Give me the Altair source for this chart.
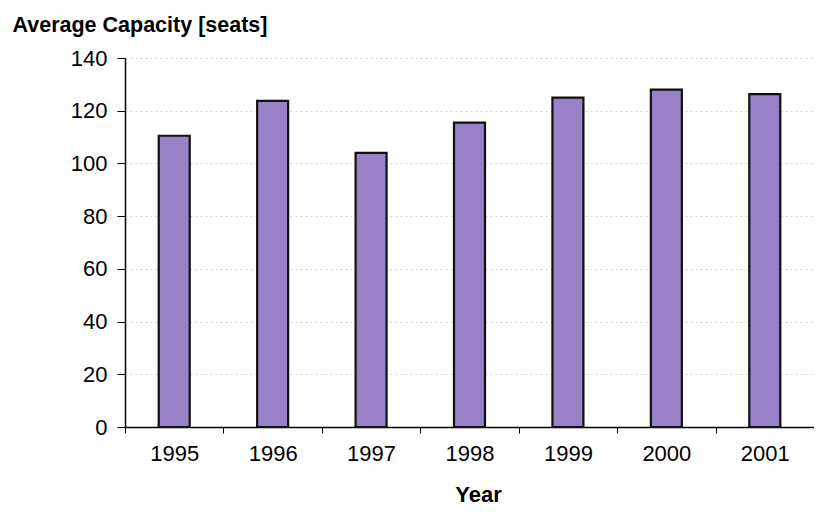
import altair as alt
import pandas as pd

years = ["1995", "1996", "1997", "1998", "1999", "2000", "2001"]
capacity = [110.5, 123.7, 104.0, 115.5, 125.0, 128.0, 126.3]
y_ticks = [0, 20, 40, 60, 80, 100, 120, 140]

df = pd.DataFrame({"Year": years, "Capacity": capacity})

FONT = "Liberation Sans"

chart = alt.Chart(df).mark_bar(
    size=31, color="#9781c7", stroke="#111111", strokeWidth=2.2
).encode(
    x=alt.X(
        "Year:N",
        sort=years,
        scale=alt.Scale(paddingInner=0, paddingOuter=0),
        axis=alt.Axis(
            title="Year",
            labelAngle=0,
            tickBand="extent",
            labelFont=FONT,
            labelFontSize=22,
            labelColor="black",
            labelPadding=10,
            tickSize=6,
            tickColor="black",
            domainColor="black",
            domainWidth=1.5,
            titleFont=FONT,
            titleFontSize=22,
            titleFontWeight="bold",
            titleColor="black",
            titleX=353,
            titleAlign="center",
            titleY=74,
            titleBaseline="alphabetic",
            grid=False,
        ),
    ),
    y=alt.Y(
        "Capacity:Q",
        scale=alt.Scale(domain=[0, 140], nice=False),
        axis=alt.Axis(
            values=y_ticks,
            title="Average Capacity [seats]",
            titleAngle=0,
            titleX=-113,
            titleY=-27,
            titleAlign="left",
            titleBaseline="alphabetic",
            titleFont=FONT,
            titleFontSize=21.5,
            titleFontWeight="bold",
            titleColor="black",
            labelFont=FONT,
            labelFontSize=22,
            labelColor="black",
            labelPadding=10,
            tickSize=8,
            tickColor="black",
            domainColor="black",
            domainWidth=1.5,
            gridColor="#d4d4d4",
            gridDash=[2, 3],
        ),
    ),
).properties(
    width=689,
    height=369,
    autosize=alt.AutoSizeParams(type="none"),
    padding={"left": 117, "top": 50, "right": 0, "bottom": 82},
).configure_view(stroke=None)

chart.save("out.html", embed_options={"renderer": "svg", "actions": False})
